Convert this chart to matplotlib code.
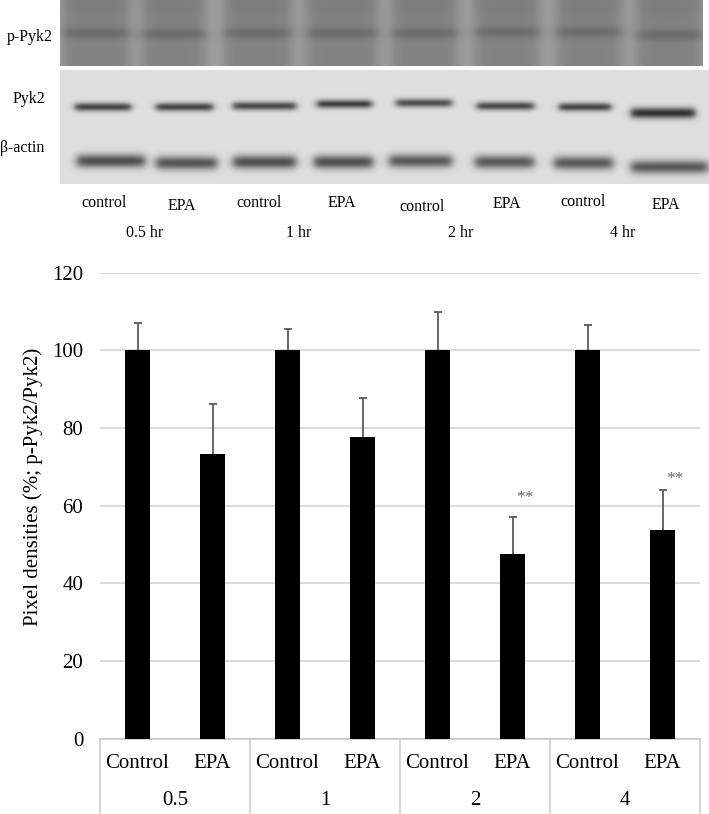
import numpy as np
import matplotlib
matplotlib.use("Agg")
import matplotlib.pyplot as plt

plt.rcParams['font.family'] = ['Liberation Serif', 'DejaVu Serif']

# bar chart data
groups = ['0.5', '1', '2', '4']
treatments = ['Control', 'EPA']
values = [100, 73.3, 100, 77.8, 100, 47.5, 100, 53.7]
errors = [7.1, 13.0, 5.6, 10.0, 10.0, 9.5, 6.5, 10.3]
star_bars = [5, 7]
star_y = [62.0, 66.8]

# blot lanes
lane_labels = ['control', 'EPA'] * 4
time_labels = ['0.5 hr', '1 hr', '2 hr', '4 hr']
top_x0 = [62, 142, 224, 306, 392, 474, 556, 636]
top_x1 = [130, 206, 292, 378, 458, 540, 622, 703]
top_band_y = [33, 34, 33, 33, 33, 32, 32, 35]
pyk2_x0 = [75, 156, 233, 317, 396, 477, 559, 631]
pyk2_x1 = [131, 213, 296, 372, 452, 534, 611, 695]
pyk2_y = [107, 107, 106, 104, 103, 106, 107, 113]
pyk2_dark = [0.60, 0.60, 0.58, 0.62, 0.56, 0.58, 0.60, 0.68]
actin_x0 = [77, 156, 233, 314, 389, 475, 554, 631]
actin_x1 = [145, 217, 296, 373, 452, 534, 613, 708]
actin_y = [161, 163, 162, 162, 161, 162, 163, 167]
actin_dark = [0.56, 0.54, 0.56, 0.56, 0.52, 0.52, 0.52, 0.52]

W, H = 709, 814
fig = plt.figure(figsize=(W / 100, H / 100), dpi=100)


def soft(x, a, b, s=2.0):
    return 1 / (1 + np.exp(-(x - a) / s)) * 1 / (1 + np.exp((x - b) / s))


# ---- blot picture ----
bax = fig.add_axes([0, (H - 250) / H, 1, 250 / H])
xx = np.arange(W) + 0.5

# top panel (p-Pyk2)
ty = np.arange(66) + 0.5
X, Y = np.meshgrid(xx, ty)
top = np.full(X.shape, 0.64)
for i in range(8):
    lane = soft(X, top_x0[i], top_x1[i], 4.0)
    top -= 0.13 * lane
    top -= 0.02 * lane * np.exp(-(Y / 20.0) ** 2)
    top -= 0.09 * lane * np.exp(-((Y - top_band_y[i]) / 5.5) ** 2)
top = top[:, 60:703]
bax.imshow(top, cmap='gray', vmin=0, vmax=1, extent=(60, 703, 66, 0),
           aspect='auto', interpolation='bilinear')

# bottom panel (Pyk2 + actin)
by = np.arange(70, 184) + 0.5
X, Y = np.meshgrid(xx, by)
bot = np.full(X.shape, 0.87)
for i in range(8):
    bot -= pyk2_dark[i] * soft(X, pyk2_x0[i], pyk2_x1[i], 2.0) * \
        np.exp(-((Y - pyk2_y[i]) / (4.2 if i < 7 else 5.4)) ** 2)
    bot -= actin_dark[i] * soft(X, actin_x0[i], actin_x1[i], 2.5) * \
        np.exp(-((Y - actin_y[i]) / 6.8) ** 2)
bot = np.clip(bot[:, 60:709], 0, 1)
bax.imshow(bot, cmap='gray', vmin=0, vmax=1, extent=(60, 709, 184, 70),
           aspect='auto', interpolation='bilinear')

bax.set_xlim(0, W)
bax.set_ylim(250, 0)
bax.axis('off')

bax.text(7, 37, 'p-Pyk2', fontsize=11.5, va='center', ha='left')
bax.text(13, 99, 'Pyk2', fontsize=11.5, va='center', ha='left')
bax.text(0, 148, 'β-actin', fontsize=11.5, va='center', ha='left')
lane_x = [104, 182, 259, 342, 422, 507, 583, 666]
lane_y = [203, 206, 203, 203, 207, 204, 202, 205]
for lx, ly, lab in zip(lane_x, lane_y, lane_labels):
    bax.text(lx, ly, lab, fontsize=11.5, ha='center', va='center')
for tx, lab in zip([145, 299, 461, 623], time_labels):
    bax.text(tx, 233, lab, fontsize=11.5, ha='center', va='center')

# ---- bar chart ----
top_px, bot_px = 272.7, 738.7
ax = fig.add_axes([100 / W, (H - bot_px) / H, 600 / W, (bot_px - top_px) / H])
x = np.arange(len(values))
ax.bar(x, values, width=1 / 3, color='black', zorder=3)
ax.errorbar(x, values, yerr=errors, fmt='none', ecolor='#5a5a5a',
            elinewidth=1.3, capsize=3, capthick=1.3, zorder=2)
for b, sy in zip(star_bars, star_y):
    ax.text(b + 0.17, sy, '**', fontsize=12.5, color='#6a6a6a',
            ha='center', va='center')

ax.set_xlim(-0.5, len(values) - 0.5)
ax.set_ylim(0, 120)
ax.set_yticks(range(0, 121, 20))
ax.tick_params(axis='y', length=0, labelsize=15, pad=12)
ax.set_xticks([])
ax.yaxis.grid(True, color='#d9d9d9', linewidth=1.3, zorder=0)
ax.set_axisbelow(True)
for s in ['left', 'top', 'right']:
    ax.spines[s].set_visible(False)
ax.spines['bottom'].set_color('#c8c8c8')
ax.spines['bottom'].set_linewidth(1.2)

# two-level category axis
h_ax = bot_px - top_px
tr = ax.get_xaxis_transform()
for i in range(len(values)):
    ax.text(i, -(763 - bot_px) / h_ax, treatments[i % 2], fontsize=15,
            ha='center', va='center', transform=tr)
for g, lab in enumerate(groups):
    ax.text(2 * g + 0.5, -(800.5 - bot_px) / h_ax, lab, fontsize=15,
            ha='center', va='center', transform=tr)
for g in range(len(groups) + 1):
    ax.plot([2 * g - 0.5] * 2, [0, -(H - bot_px) / h_ax], color='#d0d0d0',
            lw=1.2, transform=tr, clip_on=False)

fig.text(33 / W, 1 - 487 / H, 'Pixel densities (%; p-Pyk2/Pyk2)', fontsize=15,
         rotation=90, ha='center', va='center')

fig.savefig('out.png', dpi=100)
